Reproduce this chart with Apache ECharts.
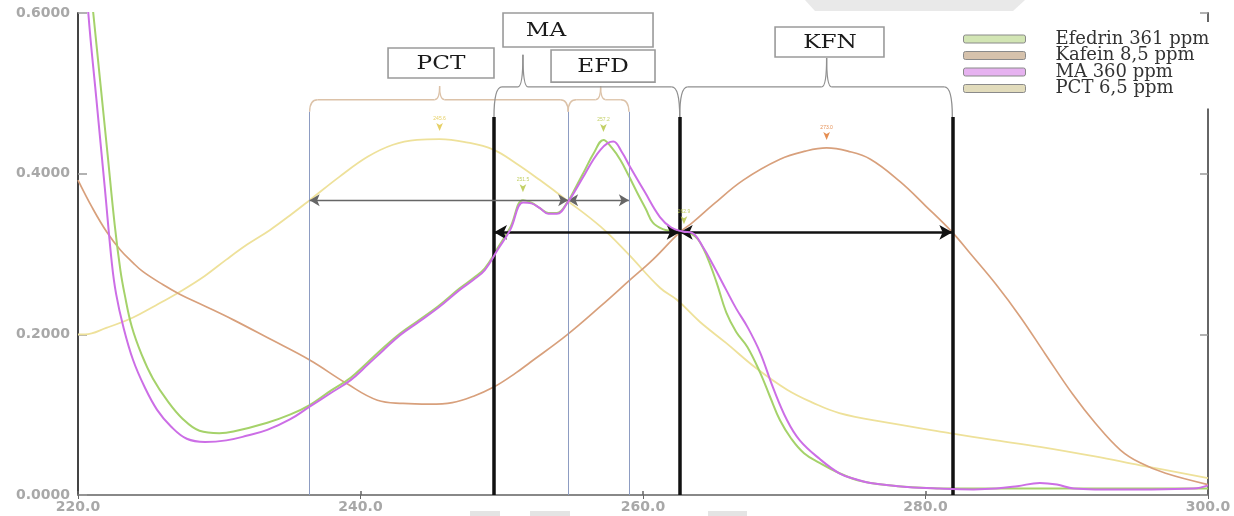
<!DOCTYPE html>
<html><head><meta charset="utf-8">
<script src="https://cdn.jsdelivr.net/npm/echarts@6/dist/echarts.min.js"></script>
<style>html,body{margin:0;padding:0;background:#fff}#c{width:1234px;height:516px}</style>
</head><body><div id="c"></div>
<script>
// ---------- data ----------
const xTicks = [220, 240, 260, 280, 300];
const yTicks = [0, 0.2, 0.4, 0.6];
const seriesNames = ['Efedrin 361 ppm', 'Kafein 8,5 ppm', 'MA 360 ppm', 'PCT 6,5 ppm'];

const wlEfd = [220.5, 221.08, 221.6, 222.1, 222.6, 223.0, 223.3, 223.8, 224.5, 225.3, 226.3, 227.4, 228.6, 230.0, 231.0, 233.4, 235.0, 236.4, 237.9, 239.3, 240.5, 241.6, 242.8, 244.0, 245.5, 247.0, 248.0, 248.8, 249.7, 250.6, 251.5, 252.1, 252.7, 253.3, 253.9, 254.7, 255.3, 255.9, 256.5, 257.2, 257.8, 258.4, 259.0, 259.6, 260.2, 260.7, 261.4, 262.2, 262.8, 263.4, 263.9, 264.5, 265.2, 265.9, 266.6, 267.4, 268.3, 269.0, 269.7, 270.5, 271.4, 272.5, 273.8, 275.5, 278.0, 282.0, 290.0, 300.0];
const absEfd = [0.70, 0.600, 0.510, 0.423, 0.336, 0.280, 0.250, 0.210, 0.175, 0.145, 0.118, 0.095, 0.080, 0.077, 0.079, 0.090, 0.100, 0.112, 0.130, 0.146, 0.165, 0.183, 0.201, 0.216, 0.235, 0.257, 0.270, 0.282, 0.307, 0.333, 0.367, 0.364, 0.357, 0.351, 0.351, 0.366, 0.385, 0.405, 0.425, 0.442, 0.432, 0.417, 0.397, 0.376, 0.356, 0.339, 0.331, 0.328, 0.327, 0.325, 0.318, 0.298, 0.265, 0.227, 0.203, 0.184, 0.152, 0.122, 0.093, 0.070, 0.052, 0.040, 0.028, 0.017, 0.011, 0.008, 0.008, 0.008];

const wlKfn = [220.0, 221.0, 222.05, 223.0, 223.9, 224.6, 226.0, 227.2, 229.0, 231.0, 233.5, 236.4, 239.0, 241.2, 243.0, 244.9, 246.5, 248.0, 249.4, 251.0, 252.0, 254.6, 257.0, 259.1, 260.7, 262.6, 263.5, 265.0, 267.1, 269.7, 271.5, 273.0, 274.5, 276.1, 278.2, 280.0, 281.9, 283.2, 285.0, 286.7, 288.5, 290.4, 292.0, 293.8, 295.2, 297.0, 300.0];
const absKfn = [0.392, 0.358, 0.327, 0.305, 0.289, 0.278, 0.262, 0.250, 0.235, 0.218, 0.195, 0.168, 0.139, 0.118, 0.114, 0.113, 0.115, 0.123, 0.134, 0.152, 0.165, 0.199, 0.235, 0.268, 0.293, 0.327, 0.339, 0.362, 0.392, 0.418, 0.428, 0.432, 0.428, 0.418, 0.390, 0.360, 0.327, 0.300, 0.262, 0.222, 0.175, 0.126, 0.090, 0.056, 0.040, 0.027, 0.013];

const wlMA = [220.3, 220.73, 221.3, 221.9, 222.4, 222.7, 223.2, 223.9, 224.7, 225.6, 226.6, 227.7, 229.0, 230.5, 232.0, 233.4, 235.0, 236.4, 237.9, 239.3, 240.5, 241.6, 242.8, 244.0, 245.5, 247.0, 248.0, 248.8, 249.7, 250.6, 251.5, 252.1, 252.7, 253.3, 253.9, 254.7, 255.3, 255.9, 256.5, 257.0, 257.5, 257.9, 258.5, 259.1, 260.1, 261.2, 262.0, 262.8, 263.5, 264.2, 265.0, 265.9, 266.6, 267.4, 268.3, 269.2, 270.2, 271.1, 272.5, 273.9, 275.0, 276.1, 278.7, 281.0, 283.4, 285.0, 286.5, 288.1, 289.3, 290.5, 292.0, 296.0, 299.0, 300.0];
const absMA = [0.72, 0.600, 0.493, 0.382, 0.288, 0.250, 0.210, 0.168, 0.135, 0.106, 0.085, 0.070, 0.066, 0.068, 0.074, 0.081, 0.094, 0.110, 0.127, 0.143, 0.162, 0.180, 0.199, 0.214, 0.233, 0.255, 0.268, 0.280, 0.305, 0.330, 0.364, 0.363, 0.357, 0.350, 0.350, 0.365, 0.382, 0.400, 0.418, 0.430, 0.438, 0.440, 0.427, 0.408, 0.378, 0.346, 0.333, 0.328, 0.326, 0.310, 0.285, 0.255, 0.232, 0.209, 0.177, 0.134, 0.093, 0.068, 0.045, 0.027, 0.020, 0.015, 0.010, 0.008, 0.007, 0.008, 0.011, 0.015, 0.013, 0.008, 0.007, 0.007, 0.008, 0.012];

const wlPct = [220.0, 220.5, 222.0, 223.9, 225.5, 227.4, 229.0, 230.5, 232.0, 233.6, 235.0, 236.4, 238.5, 240.5, 242.3, 244.0, 245.6, 247.5, 249.4, 251.0, 252.7, 254.6, 257.0, 258.9, 261.2, 262.4, 264.0, 265.9, 268.0, 270.2, 272.0, 273.9, 277.3, 281.7, 285.0, 288.1, 292.0, 295.2, 300.0];
const absPct = [0.200, 0.200, 0.208, 0.221, 0.236, 0.255, 0.273, 0.293, 0.312, 0.330, 0.348, 0.367, 0.396, 0.421, 0.436, 0.442, 0.443, 0.439, 0.430, 0.413, 0.392, 0.367, 0.334, 0.301, 0.258, 0.243, 0.216, 0.189, 0.158, 0.131, 0.115, 0.102, 0.090, 0.077, 0.068, 0.060, 0.048, 0.037, 0.021];

// peaks marked with small arrows (wavelength, absorbance)
const peaksPct = [[245.6, 0.443]];
const peaksEfd = [[251.5, 0.367], [257.2, 0.442], [262.9, 0.327]];
const peaksKfn = [[273.0, 0.432]];

// annotation wavelengths
const thinLines = [236.4, 254.7, 259.0];
const thickLines = [249.45, 262.6, 281.9];
const thinArrows = [[236.4, 254.7], [254.7, 259.0]];
const thickArrows = [[249.45, 262.6], [262.6, 281.9]];
const thinArrowY = 0.367, thickArrowY = 0.327, thinTop = 0.477, thickTop = 0.4706;
const braceFrom = [236.4, 254.7, 249.45, 262.6];
const braceTo = [254.7, 259.0, 262.6, 281.9];
const braceTip = [245.6, 257.0, 251.5, 273.0];
const braceLevel = [0.492, 0.492, 0.508, 0.508];
const braceEnd = [0.477, 0.477, 0.4706, 0.4706];
const bracePeak = [0.509, 0.509, 0.548, 0.544];
const boxText = ['PCT', 'MA', 'EFD', 'KFN'];
const boxX0 = [241.95, 250.09, 253.49, 269.35];
const boxX1 = [249.45, 260.71, 260.85, 277.06];
const boxY0 = [0.5565, 0.600, 0.554, 0.5826];
const boxY1 = [0.519, 0.5577, 0.514, 0.5452];
const boxTx = [245.7, 253.13, 257.17, 273.24];

// ---------- chart ----------
const zip = (a, b) => a.map((x, i) => [x, b[i]]);
const colors = { efd: '#a5d26a', kfn: '#d8a07c', ma: '#cc6ee6', pct: '#eee19a' };

const chart = echarts.init(document.getElementById('c'), null, { renderer: 'canvas' });

function peakMarks(list, col) {
  return {
    silent: true, animation: false,
    symbol: 'arrow', symbolSize: [5, 8], symbolRotate: 180, symbolOffset: [0, -8],
    itemStyle: { color: col, opacity: 0.85 },
    label: { show: true, position: 'top', distance: 2, fontSize: 5, color: col, formatter: p => p.data.coord[0].toFixed(1) },
    data: list.map(c => ({ coord: c }))
  };
}

const mlData = [];
thinLines.forEach(x => mlData.push([{ coord: [x, 0], lineStyle: { color: '#8d9cc2', width: 1, type: 'solid' } }, { coord: [x, thinTop] }]));
thickLines.forEach(x => mlData.push([{ coord: [x, 0], lineStyle: { color: '#111', width: 3.5, type: 'solid' } }, { coord: [x, thickTop] }]));
thinArrows.forEach(a => mlData.push([
  { coord: [a[0], thinArrowY], symbol: 'arrow', symbolSize: [9, 10], lineStyle: { color: '#666', width: 1.3, type: 'solid' }, itemStyle: { color: '#666' } },
  { coord: [a[1], thinArrowY], symbol: 'arrow', symbolSize: [9, 10], itemStyle: { color: '#666' } }]));
thickArrows.forEach(a => mlData.push([
  { coord: [a[0], thickArrowY], symbol: 'arrow', symbolSize: [11, 13], lineStyle: { color: '#111', width: 2.6, type: 'solid' }, itemStyle: { color: '#111' } },
  { coord: [a[1], thickArrowY], symbol: 'arrow', symbolSize: [11, 13], itemStyle: { color: '#111' } }]));

const axisLabelStyle = { color: '#a8a8a8', fontSize: 14, fontWeight: 'bold', fontFamily: 'DejaVu Sans' };

chart.setOption({
  animation: false,
  backgroundColor: '#fff',
  grid: { left: 78, right: 26, top: 13, bottom: 21, containLabel: false },
  legend: {
    data: [
      { name: seriesNames[0], itemStyle: { color: '#d2e5b4' } },
      { name: seriesNames[1], itemStyle: { color: '#d6c2ac' } },
      { name: seriesNames[2], itemStyle: { color: '#e6b2f0' } },
      { name: seriesNames[3], itemStyle: { color: '#e2dcbc' } }
    ],
    orient: 'vertical', left: 958, top: 22, padding: [8, 8, 11, 5],
    itemWidth: 62, itemHeight: 8, itemGap: -1.5, icon: 'roundRect',
    backgroundColor: '#fff', selectedMode: false,
    itemStyle: { borderColor: '#8a8a8a', borderWidth: 1 },
    textStyle: { fontFamily: 'DejaVu Serif', fontSize: 18, color: '#333', lineHeight: 16, padding: [0, 0, 0, 25] }
  },
  xAxis: [
    { type: 'value', position: 'bottom', min: xTicks[0], max: xTicks[xTicks.length - 1], interval: 20,
      axisLine: { lineStyle: { color: '#a0a0a0', width: 2 } },
      axisTick: { inside: true, length: 4, lineStyle: { color: '#666', width: 1.5 } },
      axisLabel: Object.assign({ formatter: v => v.toFixed(1), margin: 5 }, axisLabelStyle),
      splitLine: { show: false } },
    { type: 'value', position: 'top', min: xTicks[0], max: xTicks[xTicks.length - 1], interval: 20,
      axisLine: { lineStyle: { color: '#888', width: 2 } },
      axisTick: { inside: true, length: 4, lineStyle: { color: '#666' } },
      axisLabel: { show: false }, splitLine: { show: false } }
  ],
  yAxis: [
    { type: 'value', position: 'left', min: yTicks[0], max: yTicks[yTicks.length - 1], interval: 0.2,
      axisLine: { show: true, lineStyle: { color: '#444', width: 2 } },
      axisTick: { show: true, inside: true, length: 9, lineStyle: { color: '#999', width: 1.5 } },
      axisLabel: Object.assign({ formatter: v => v.toFixed(4), margin: 8 }, axisLabelStyle),
      splitLine: { show: false } },
    { type: 'value', position: 'right', min: yTicks[0], max: yTicks[yTicks.length - 1], interval: 0.2,
      axisLine: { show: true, lineStyle: { color: '#666', width: 2 } },
      axisTick: { show: true, inside: true, length: 8, lineStyle: { color: '#999', width: 1.5 } },
      axisLabel: { show: false }, splitLine: { show: false } }
  ],
  series: [
    { name: seriesNames[3], type: 'line', data: zip(wlPct, absPct), smooth: 0.4, symbol: 'none', clip: true,
      lineStyle: { color: colors.pct, width: 1.8 }, itemStyle: { color: colors.pct }, z: 2,
      markPoint: peakMarks(peaksPct, '#e2c84a') },
    { name: seriesNames[1], type: 'line', data: zip(wlKfn, absKfn), smooth: 0.4, symbol: 'none', clip: true,
      lineStyle: { color: colors.kfn, width: 1.7 }, itemStyle: { color: colors.kfn }, z: 3,
      markPoint: peakMarks(peaksKfn, '#e07a34') },
    { name: seriesNames[0], type: 'line', data: zip(wlEfd, absEfd), smooth: 0.4, symbol: 'none', clip: true,
      lineStyle: { color: colors.efd, width: 2 }, itemStyle: { color: colors.efd }, z: 4,
      markPoint: peakMarks(peaksEfd, '#b9c84a') },
    { name: seriesNames[2], type: 'line', data: zip(wlMA, absMA), smooth: 0.4, symbol: 'none', clip: true,
      lineStyle: { color: colors.ma, width: 2 }, itemStyle: { color: colors.ma }, z: 5,
      markLine: { silent: true, animation: false, symbol: 'none', label: { show: false }, emphasis: { disabled: true }, data: mlData } }
  ]
});

// ---------- annotations: braces, boxes ----------
function toPx(x, y) { return chart.convertToPixel({ xAxisIndex: 0, yAxisIndex: 0 }, [x, y]); }
const g = [];
for (let i = 0; i < braceFrom.length; i++) {
  const x1 = toPx(braceFrom[i], 0)[0], x2 = toPx(braceTo[i], 0)[0], xt = toPx(braceTip[i], 0)[0];
  const yb = toPx(0, braceLevel[i])[1], ye = toPx(0, braceEnd[i])[1], yt = toPx(0, bracePeak[i])[1];
  const col = i < 2 ? '#dcc2a8' : '#8f8f8f';
  const st = { stroke: col, lineWidth: 1.3, fill: null };
  const r = 8, rt = 5;
  g.push({ type: 'bezierCurve', shape: { x1: x1, y1: ye, x2: x1 + r, y2: yb, cpx1: x1, cpy1: yb }, style: st, silent: true });
  g.push({ type: 'line', shape: { x1: x1 + r, y1: yb, x2: xt - rt, y2: yb }, style: st, silent: true });
  g.push({ type: 'bezierCurve', shape: { x1: xt - rt, y1: yb, x2: xt, y2: yt, cpx1: xt, cpy1: yb }, style: st, silent: true });
  g.push({ type: 'bezierCurve', shape: { x1: xt, y1: yt, x2: xt + rt, y2: yb, cpx1: xt, cpy1: yb }, style: st, silent: true });
  g.push({ type: 'line', shape: { x1: xt + rt, y1: yb, x2: x2 - r, y2: yb }, style: st, silent: true });
  g.push({ type: 'bezierCurve', shape: { x1: x2 - r, y1: yb, x2: x2, y2: ye, cpx1: x2, cpy1: yb }, style: st, silent: true });
}
for (let i = 0; i < boxText.length; i++) {
  const p0 = toPx(boxX0[i], boxY0[i]), p1 = toPx(boxX1[i], boxY1[i]);
  g.push({ type: 'rect', shape: { x: p0[0], y: p0[1], width: p1[0] - p0[0], height: p1[1] - p0[1] },
    style: { fill: '#fff', stroke: '#9a9a9a', lineWidth: 1.6 }, z: 10, silent: true });
  const tx = toPx(boxTx[i], 0)[0];
  g.push({ type: 'text', x: tx, y: (p0[1] + p1[1]) / 2 + 1, scaleX: 1.22, z: 11, silent: true,
    style: { text: boxText[i], font: '19px "DejaVu Serif"', fill: '#1a1a1a', textAlign: 'center', textVerticalAlign: 'middle' } });
}
// faint scan artefacts of the original figure
g.push({ type: 'polygon', shape: { points: [[805, 0], [1025, 0], [1013, 11], [815, 11]] }, style: { fill: '#e9e9e9' }, z: -1, silent: true });
[[470, 30], [530, 40], [708, 39]].forEach(r => g.push({ type: 'rect', shape: { x: r[0], y: 511, width: r[1], height: 5 }, style: { fill: '#e4e4e4' }, z: -1, silent: true }));
chart.setOption({ graphic: g });
</script>
</body></html>
